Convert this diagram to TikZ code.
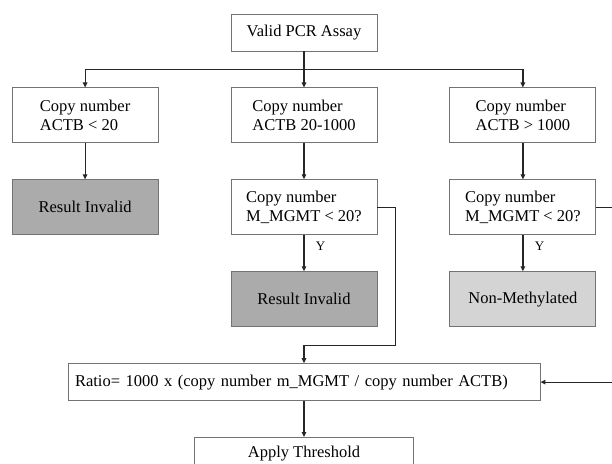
\documentclass[tikz,border=0pt]{standalone}
\usepackage{fontspec}
\setmainfont{Liberation Serif}
\usepackage{xcolor}
\usepackage{tikz}
\usetikzlibrary{arrows.meta,positioning,calc}

\definecolor{invalidgray}{RGB}{171,171,171}
\definecolor{nonmethgray}{RGB}{212,212,212}

\begin{document}
\begin{tikzpicture}[
    x=1pt, y=-1pt,
    >={Triangle[length=5pt,width=4.5pt]},
    node distance=36pt and 72pt,
    box/.style={
        draw=black!55,
        line width=0.9pt,
        align=left,
        font=\fontsize{16.5}{19.5}\selectfont,
        minimum width=146pt,
        minimum height=55pt,
        inner sep=0pt
    },
    edge/.style={->, line width=1.2pt, black!85},
    edgelabel/.style={
        font=\fontsize{13}{15}\selectfont,
        right=8pt,
        pos=0.3
    }
]
\clip (0,0) rectangle (612,463);
\fill[white] (0,0) rectangle (612,463);

\node[box, minimum height=37pt] (valid) at (304,32.5) {Valid PCR Assay};

\node[box, below=of valid] (cmid) {Copy number\\ACTB 20-1000};
\node[box, left=of cmid] (cleft) {Copy number\\ACTB < 20};
\node[box, right=of cmid] (cright) {Copy number\\ACTB > 1000};

\node[box, fill=invalidgray, below=of cleft] (invleft) {Result Invalid};
\node[box, below=of cmid] (mmid) {Copy number\\M\_MGMT < 20?};
\node[box, below=of cright] (mright) {Copy number\\M\_MGMT < 20?};

\node[box, fill=invalidgray, below=of mmid] (invmid) {Result Invalid};
\node[box, fill=nonmethgray, below=of mright] (nonmeth) {Non-Methylated};

\node[
    box,
    minimum width=0pt,
    minimum height=37pt,
    text width=458pt,
    inner xsep=7pt,
    below=of invmid
] (ratio)
  {Ratio= 1000 x (copy number m\_MGMT / copy number ACTB)};

\node[box, align=center, minimum width=219pt, minimum height=33pt,
    below=of ratio] (apply) {Apply Threshold};

\coordinate (split) at ($(valid.south)!0.5!(cmid.north)$);

\draw[edge] (valid.south) -- (cmid.north);
\draw[edge] (split) -| (cleft.north);
\draw[edge] (split) -| (cright.north);

\draw[edge] (cleft) -- (invleft);
\draw[edge] (cmid) -- (mmid);
\draw[edge] (cright) -- (mright);

\draw[edge] (mmid) -- node[edgelabel, black] {Y} (invmid);
\draw[edge] (mright) -- node[edgelabel, black] {Y} (nonmeth);

\draw[edge] (mmid.east) -- ++(18,0) |- ([yshift=18pt]ratio.north) -- (ratio.north);
\draw[edge] (mright.east) -- ++(30,0) |- (ratio.east);
\draw[edge] (ratio) -- (apply);

\end{tikzpicture}
\end{document}
